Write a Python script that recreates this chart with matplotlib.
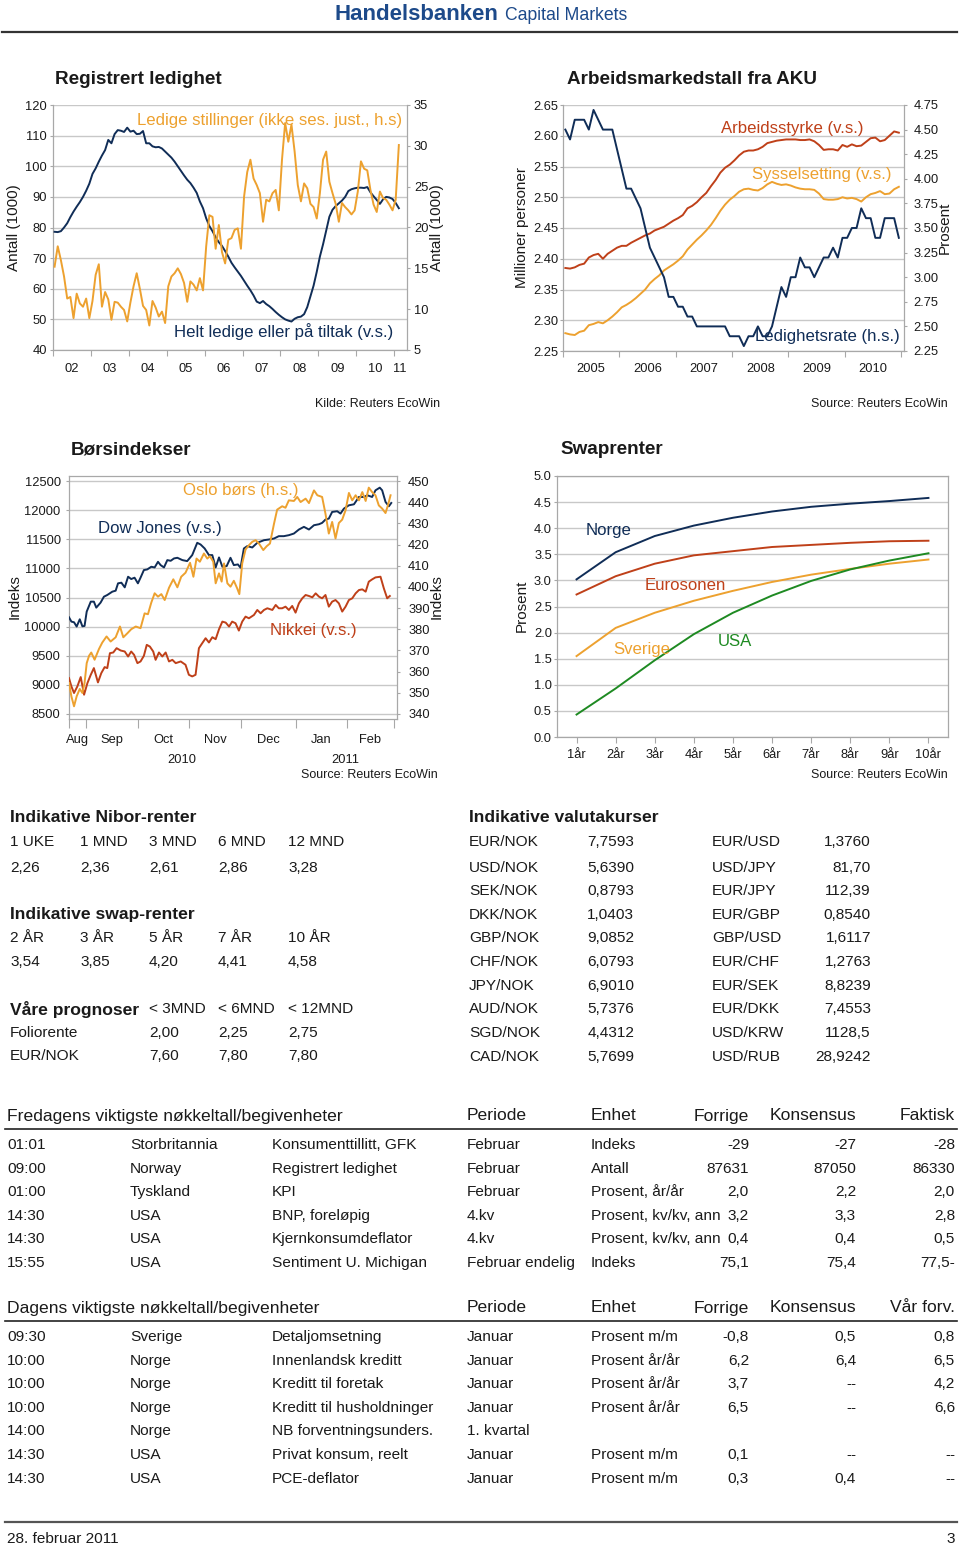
import numpy as np
import matplotlib
matplotlib.use("Agg")
import matplotlib.pyplot as plt
from matplotlib import font_manager as fm
from matplotlib.lines import Line2D
from matplotlib.ticker import FormatStrFormatter

# ---------------------------------------------------------------- data
# Chart 1: Registrert ledighet (monthly, Jan 2002 - Feb 2011)
helt_ledige = [78.6, 78.5, 78.8, 80.0, 81.4, 83.4, 85.2, 86.8, 88.3, 90.0,
               92.0, 94.3, 97.5, 99.3, 101.5, 103.5, 105.3, 108.6, 107.5, 110.5,
               111.8, 111.6, 111.2, 112.6, 111.3, 111.6, 110.5, 110.6, 111.5, 107.5,
               107.5, 106.5, 106.2, 106.3, 105.8, 104.8, 103.8, 102.8, 101.5, 100.0,
               98.5, 97.0, 95.6, 94.5, 93.0, 91.3, 88.5, 86.3, 83.0, 80.5,
               78.8, 76.8, 75.2, 74.0, 72.3, 70.5, 68.5, 67.0, 65.6, 64.2,
               62.6, 61.0, 59.5, 57.8, 55.8, 55.3, 56.0, 55.0, 54.3, 53.4,
               52.4, 51.5, 50.7, 50.0, 49.6, 49.3, 50.2, 50.7, 50.9, 51.7,
               54.0, 57.5, 61.0, 65.5, 70.5, 74.5, 79.0, 83.5, 85.8, 87.0,
               87.9, 88.8, 90.0, 91.9, 92.5, 92.8, 93.0, 93.0, 92.9, 93.2,
               91.5, 90.2, 89.0, 87.7, 89.2, 90.0, 89.8, 89.3, 88.0, 86.3]
ledige_stillinger = [15.2, 17.7, 16.0, 14.0, 11.3, 11.5, 8.9, 11.9, 10.7, 10.3,
                     11.3, 8.9, 11.0, 14.2, 15.5, 10.3, 12.1, 11.2, 8.7, 10.9,
                     10.8, 10.3, 9.9, 8.5, 10.8, 12.8, 14.4, 12.5, 10.4, 9.9,
                     8.0, 11.0, 10.2, 9.1, 9.7, 8.3, 12.8, 14.0, 14.4, 15.0,
                     14.3, 13.2, 10.9, 13.4, 13.0, 12.3, 13.8, 12.3, 17.7, 21.5,
                     21.3, 17.4, 20.3, 17.0, 15.6, 18.5, 18.7, 19.7, 19.9, 17.4,
                     23.8, 26.8, 28.3, 26.0, 25.2, 24.2, 20.7, 23.4, 23.2, 24.2,
                     24.6, 22.1, 28.3, 32.8, 30.5, 32.6, 29.3, 25.2, 23.2, 25.4,
                     24.8, 22.9, 22.5, 21.1, 24.2, 28.3, 29.3, 25.6, 24.2, 22.9,
                     20.7, 23.0, 22.5, 22.1, 21.6, 22.1, 24.4, 28.1, 27.2, 27.0,
                     24.6, 22.8, 21.9, 24.4, 23.6, 23.4, 22.8, 22.1, 23.4, 30.1]
c1_year_labels = ["02", "03", "04", "05", "06", "07", "08", "09", "10", "11"]

# Chart 2: Arbeidsmarkedstall fra AKU (monthly, Jan 2005 - Dec 2010)
arbeidsstyrke = [2.385, 2.384, 2.386, 2.390, 2.392, 2.402, 2.406, 2.408, 2.400, 2.408,
                 2.413, 2.418, 2.421, 2.421, 2.426, 2.430, 2.434, 2.438, 2.441, 2.446,
                 2.449, 2.452, 2.457, 2.462, 2.466, 2.471, 2.482, 2.486, 2.492, 2.500,
                 2.507, 2.518, 2.528, 2.540, 2.548, 2.553, 2.560, 2.568, 2.574, 2.576,
                 2.576, 2.578, 2.582, 2.588, 2.590, 2.592, 2.593, 2.594, 2.594, 2.594,
                 2.593, 2.593, 2.594, 2.591, 2.585, 2.577, 2.578, 2.578, 2.576, 2.585,
                 2.582, 2.586, 2.583, 2.584, 2.590, 2.596, 2.597, 2.591, 2.593, 2.600,
                 2.607, 2.605]
sysselsetting = [2.279, 2.277, 2.276, 2.281, 2.283, 2.292, 2.294, 2.297, 2.295, 2.300,
                 2.306, 2.313, 2.321, 2.325, 2.330, 2.336, 2.343, 2.350, 2.360, 2.367,
                 2.373, 2.381, 2.386, 2.391, 2.397, 2.404, 2.415, 2.423, 2.431, 2.438,
                 2.446, 2.455, 2.466, 2.478, 2.488, 2.496, 2.502, 2.509, 2.513, 2.514,
                 2.512, 2.511, 2.515, 2.521, 2.525, 2.522, 2.520, 2.521, 2.519, 2.516,
                 2.514, 2.513, 2.513, 2.512, 2.506, 2.497, 2.496, 2.496, 2.497, 2.500,
                 2.498, 2.499, 2.497, 2.493, 2.500, 2.505, 2.507, 2.510, 2.505, 2.506,
                 2.513, 2.517]
ledighetsrate = [4.5, 4.4, 4.6, 4.6, 4.6, 4.5, 4.7, 4.6, 4.5, 4.5,
                 4.5, 4.3, 4.1, 3.9, 3.9, 3.8, 3.7, 3.5, 3.3, 3.2,
                 3.1, 3.0, 2.8, 2.8, 2.7, 2.7, 2.6, 2.6, 2.5, 2.5,
                 2.5, 2.5, 2.5, 2.5, 2.5, 2.4, 2.4, 2.4, 2.3, 2.4,
                 2.4, 2.5, 2.4, 2.4, 2.5, 2.7, 2.9, 2.8, 3.0, 3.0,
                 3.2, 3.1, 3.1, 3.0, 3.1, 3.2, 3.2, 3.3, 3.2, 3.4,
                 3.4, 3.5, 3.5, 3.7, 3.6, 3.6, 3.4, 3.4, 3.6, 3.6,
                 3.6, 3.4]
c2_year_labels = ["2005", "2006", "2007", "2008", "2009", "2010"]

# Chart 3: Børsindekser (x = trading days since 2010-08-23)
dow_day = [0.0, 1.0, 2.1, 3.2, 4.5, 5.6, 6.5, 7.4, 9.1, 10.4, 11.4, 13.2, 14.6, 16.0,
           18.1, 19.5, 20.5, 21.9, 23.3, 24.7, 26.0, 27.4, 28.8, 29.9, 31.3, 32.7,
           34.4, 35.8, 37.2, 38.3, 39.7, 41.1, 42.5, 43.9, 45.3, 47.4, 49.4, 51.5,
           53.6, 55.0, 56.7, 58.5, 59.9, 61.3, 62.7, 64.1, 65.9, 67.5, 68.9, 70.6,
           71.7, 73.1, 74.5, 76.6, 78.7, 81.5, 83.6, 85.7, 87.7, 89.8, 91.9, 94.0,
           96.1, 98.2, 100.3, 102.4, 104.5, 105.8, 107.2, 108.6, 110.0, 112.1, 113.5,
           114.9, 117.0, 119.1, 121.2, 123.3, 124.7, 126.7, 128.1, 129.9, 130.9,
           132.3, 133.7, 134.7]
dow_val = [10160, 10086, 10075, 10001, 10126, 10005, 10012, 10258, 10429, 10429, 10326,
           10412, 10514, 10543, 10600, 10617, 10743, 10754, 10674, 10857, 10817, 10840,
           10743, 10840, 10971, 10982, 11028, 11016, 11113, 11056, 11016, 11142, 11130,
           11171, 11182, 11142, 11125, 11228, 11439, 11410, 11342, 11228, 11228, 11016,
           11188, 11028, 11039, 11182, 11056, 11068, 11011, 11342, 11382, 11359, 11439,
           11484, 11496, 11513, 11553, 11553, 11570, 11598, 11667, 11713, 11667, 11741,
           11758, 11781, 11838, 11855, 11969, 11981, 11941, 12026, 12083, 12100, 12226,
           12226, 12255, 12226, 12340, 12386, 12340, 12141, 12066, 12123]
oslo_day = [0.0, 1.0, 2.1, 3.2, 4.5, 5.6, 6.5, 7.4, 8.4, 9.3, 10.7, 12.5, 13.9, 15.7,
            17.4, 19.5, 21.3, 22.7, 24.4, 26.0, 27.9, 29.9, 31.6, 33.0, 34.4, 35.8,
            37.2, 38.6, 40.0, 41.8, 43.6, 45.3, 46.9, 48.7, 50.6, 52.0, 53.3, 54.7,
            56.4, 57.8, 58.9, 60.3, 61.3, 62.7, 63.8, 64.8, 66.2, 67.5, 68.9, 70.3,
            71.2, 72.4, 73.8, 75.2, 76.6, 78.0, 79.4, 81.2, 82.6, 84.0, 85.7, 87.0,
            89.1, 90.5, 91.9, 94.0, 95.4, 96.8, 98.9, 100.3, 102.4, 103.8, 105.8,
            107.2, 108.6, 110.0, 111.4, 112.8, 114.2, 115.6, 117.0, 118.4, 119.8,
            121.2, 122.6, 124.0, 125.3, 126.7, 128.1, 129.5, 130.9, 132.3, 133.3, 134.4]
oslo_val = [354.6, 348.3, 343.6, 348.3, 351.8, 349.9, 354.6, 364.0, 367.5, 369.0, 365.6,
            370.6, 373.7, 376.6, 374.2, 376.2, 381.3, 376.2, 378.1, 380.0, 381.3, 380.5,
            387.5, 387.1, 392.6, 397.0, 395.4, 396.6, 393.8, 399.6, 403.6, 399.8, 404.8,
            406.7, 411.4, 404.8, 413.4, 411.9, 415.8, 413.4, 414.5, 411.9, 401.7, 406.4,
            402.5, 411.1, 401.7, 400.1, 402.9, 399.3, 396.6, 411.1, 417.7, 419.7, 421.3,
            422.1, 420.5, 417.4, 419.2, 420.5, 429.9, 436.5, 438.1, 437.4, 440.9, 440.6,
            442.5, 440.1, 441.7, 439.6, 445.6, 443.3, 442.5, 434.6, 425.2, 430.7, 422.9,
            430.2, 431.8, 436.2, 444.4, 440.9, 443.3, 440.9, 444.8, 440.6, 446.9, 444.8,
            443.3, 438.5, 437.0, 434.9, 438.5, 443.3]
nikkei_day = [0.0, 1.0, 2.1, 3.5, 4.9, 6.3, 7.7, 9.1, 10.4, 12.1, 13.5, 14.9, 16.0,
              17.1, 18.5, 19.9, 21.6, 23.3, 24.7, 26.0, 27.2, 28.6, 29.9, 31.3, 32.5,
              33.8, 35.2, 36.2, 37.6, 39.0, 40.4, 41.8, 43.2, 44.6, 46.7, 48.7, 50.1,
              51.5, 52.9, 54.3, 55.7, 57.1, 58.5, 59.9, 61.3, 62.7, 64.1, 65.5, 66.9,
              68.2, 69.6, 71.0, 72.4, 73.8, 75.2, 77.3, 78.7, 80.1, 81.5, 82.9, 85.0,
              86.4, 87.7, 89.1, 90.5, 91.9, 93.3, 94.7, 96.1, 97.5, 98.9, 100.3, 101.7,
              103.1, 104.5, 105.8, 107.2, 108.6, 110.0, 111.4, 112.8, 114.2, 115.6,
              117.0, 118.4, 119.8, 121.2, 122.6, 124.0, 125.3, 126.7, 128.1, 130.2,
              131.6, 133.0, 134.1]
nikkei_val = [9116, 8974, 8860, 8974, 9134, 8831, 9031, 9173, 9288, 9042, 9202, 9305,
              9288, 9544, 9556, 9630, 9590, 9573, 9487, 9573, 9516, 9373, 9402, 9499,
              9687, 9658, 9573, 9430, 9556, 9487, 9556, 9402, 9430, 9373, 9402, 9345,
              9173, 9145, 9173, 9630, 9716, 9801, 9727, 9818, 9784, 9955, 10086, 10069,
              10001, 10086, 10058, 9932, 10086, 10172, 10143, 10200, 10286, 10229, 10286,
              10315, 10286, 10372, 10315, 10315, 10343, 10286, 10355, 10240, 10400, 10486,
              10543, 10526, 10503, 10571, 10514, 10486, 10543, 10343, 10429, 10457, 10400,
              10258, 10343, 10457, 10486, 10571, 10628, 10640, 10600, 10771, 10811, 10845,
              10857, 10657, 10486, 10526]
c3_month_starts = ["2010-08-23", "2010-09-01", "2010-10-01", "2010-11-01",
                   "2010-12-01", "2011-01-03", "2011-02-01", "2011-03-01"]
c3_month_labels = ["Aug", "Sep", "Oct", "Nov", "Dec", "Jan", "Feb"]

# Chart 4: Swaprenter
swap_tenors = ["1år", "2år", "3år", "4år", "5år", "6år", "7år", "8år", "9år", "10år"]
swap_norge = [3.02, 3.54, 3.85, 4.05, 4.20, 4.32, 4.41, 4.47, 4.52, 4.58]
swap_euro = [2.73, 3.08, 3.32, 3.48, 3.56, 3.64, 3.68, 3.72, 3.75, 3.76]
swap_sverige = [1.55, 2.09, 2.38, 2.61, 2.80, 2.97, 3.11, 3.22, 3.32, 3.40]
swap_usa = [0.43, 0.93, 1.47, 1.97, 2.38, 2.71, 2.99, 3.21, 3.38, 3.52]

# Tables
nibor_head = ["1 UKE", "1 MND", "3 MND", "6 MND", "12 MND"]
nibor_vals = ["2,26", "2,36", "2,61", "2,86", "3,28"]
swap_head = ["2 ÅR", "3 ÅR", "5 ÅR", "7 ÅR", "10 ÅR"]
swap_vals = ["3,54", "3,85", "4,20", "4,41", "4,58"]
prog_head = ["< 3MND", "< 6MND", "< 12MND"]
prog_rows = [["Foliorente", "2,00", "2,25", "2,75"],
             ["EUR/NOK", "7,60", "7,80", "7,80"]]
fx_left = [["EUR/NOK", "7,7593"], ["USD/NOK", "5,6390"], ["SEK/NOK", "0,8793"],
           ["DKK/NOK", "1,0403"], ["GBP/NOK", "9,0852"], ["CHF/NOK", "6,0793"],
           ["JPY/NOK", "6,9010"], ["AUD/NOK", "5,7376"], ["SGD/NOK", "4,4312"],
           ["CAD/NOK", "5,7699"]]
fx_right = [["EUR/USD", "1,3760"], ["USD/JPY", "81,70"], ["EUR/JPY", "112,39"],
            ["EUR/GBP", "0,8540"], ["GBP/USD", "1,6117"], ["EUR/CHF", "1,2763"],
            ["EUR/SEK", "8,8239"], ["EUR/DKK", "7,4553"], ["USD/KRW", "1128,5"],
            ["USD/RUB", "28,9242"]]
fri_head = ["Fredagens viktigste nøkkeltall/begivenheter", "Periode", "Enhet",
            "Forrige", "Konsensus", "Faktisk"]
fri_rows = [["01:01", "Storbritannia", "Konsumenttillitt, GFK", "Februar", "Indeks", "-29", "-27", "-28"],
            ["09:00", "Norway", "Registrert ledighet", "Februar", "Antall", "87631", "87050", "86330"],
            ["01:00", "Tyskland", "KPI", "Februar", "Prosent, år/år", "2,0", "2,2", "2,0"],
            ["14:30", "USA", "BNP, foreløpig", "4.kv", "Prosent, kv/kv, ann", "3,2", "3,3", "2,8"],
            ["14:30", "USA", "Kjernkonsumdeflator", "4.kv", "Prosent, kv/kv, ann", "0,4", "0,4", "0,5"],
            ["15:55", "USA", "Sentiment U. Michigan", "Februar endelig", "Indeks", "75,1", "75,4", "77,5-"]]
day_head = ["Dagens viktigste nøkkeltall/begivenheter", "Periode", "Enhet",
            "Forrige", "Konsensus", "Vår forv."]
day_rows = [["09:30", "Sverige", "Detaljomsetning", "Januar", "Prosent m/m", "-0,8", "0,5", "0,8"],
            ["10:00", "Norge", "Innenlandsk kreditt", "Januar", "Prosent år/år", "6,2", "6,4", "6,5"],
            ["10:00", "Norge", "Kreditt til foretak", "Januar", "Prosent år/år", "3,7", "--", "4,2"],
            ["10:00", "Norge", "Kreditt til husholdninger", "Januar", "Prosent år/år", "6,5", "--", "6,6"],
            ["14:00", "Norge", "NB forventningsunders.", "1. kvartal", "", "", "", ""],
            ["14:30", "USA", "Privat konsum, reelt", "Januar", "Prosent m/m", "0,1", "--", "--"],
            ["14:30", "USA", "PCE-deflator", "Januar", "Prosent m/m", "0,3", "0,4", "--"]]

# ---------------------------------------------------------------- style
_names = {f.name for f in fm.fontManager.ttflist}
HAS_NARROW = "Liberation Sans Narrow" in _names
NARROW = ["Liberation Sans Narrow", "DejaVu Sans"] if HAS_NARROW else ["Liberation Sans", "DejaVu Sans"]
SANS = ["Liberation Sans", "DejaVu Sans"]
plt.rcParams["font.family"] = NARROW

NAVY = "#102d57"
ORANGE = "#eda12f"
RED = "#bf4019"
GREEN = "#1e8a22"
GRID = "#c8c8c8"
SPINE = "#a8a8a8"
TXT = "#1a1a1a"

TICK = 10.8 if HAS_NARROW else 9.3
SER = 14.5 if HAS_NARROW else 12.1
AXL = 11.0
SRC = 10.8 if HAS_NARROW else 9.0

W, H = 960, 1546
fig = plt.figure(figsize=(W / 100, H / 100), dpi=100)


def axes_px(l, t, r, b):
    return fig.add_axes([l / W, 1 - b / H, (r - l) / W, (b - t) / H])


def txt(x, y, s, size, ha="left", va="center", **kw):
    kw.setdefault("color", TXT)
    fig.text(x / W, 1 - y / H, s, fontsize=size, ha=ha, va=va, **kw)


def hline(x0, x1, y, color, lw):
    fig.add_artist(Line2D([x0 / W, x1 / W], [1 - y / H, 1 - y / H],
                          color=color, lw=lw, transform=fig.transFigure))


def base_style(ax, twin):
    for s in ax.spines.values():
        s.set_color(SPINE)
        s.set_linewidth(0.9)
    for s in twin.spines.values():
        s.set_visible(False)
    ax.set_axisbelow(True)
    ax.yaxis.grid(True, color=GRID, lw=1.0)
    ax.tick_params(axis="y", colors=SPINE, labelcolor=TXT, labelsize=TICK, length=2.5, width=0.8)
    twin.tick_params(axis="y", colors=SPINE, labelcolor=TXT, labelsize=TICK, length=2.5, width=0.8)
    ax.tick_params(axis="x", which="major", colors=SPINE, length=4.5, width=0.8, labelbottom=False)
    ax.tick_params(axis="x", which="minor", length=0, labelcolor=TXT, labelsize=TICK)


# ---------------------------------------------------------------- header
txt(498, 20, "Handelsbanken", 16, ha="right", va="baseline", color="#1d4a8a",
    fontweight="bold", family=SANS)
txt(505, 20, "Capital Markets", 12.7, ha="left", va="baseline", color="#1d4a8a", family=SANS)
hline(2, 957, 32, "#333333", 1.6)

# ---------------------------------------------------------------- chart 1
ax1 = axes_px(53, 105, 407, 350)
ax1r = ax1.twinx()
m1 = 2002 + (np.arange(len(helt_ledige)) + 0.5) / 12
ax1.plot(m1, helt_ledige, color=NAVY, lw=1.4, zorder=3)
ax1r.plot(m1, ledige_stillinger, color=ORANGE, lw=1.4, zorder=2)
ax1.set_xlim(2002.0, 2011.34)
ax1.set_ylim(40, 120)
ax1.set_yticks(np.arange(40, 121, 10))
ax1r.set_ylim(5, 35)
ax1r.set_yticks(np.arange(5, 36, 5))
ax1.set_xticks(np.arange(2002, 2012))
ax1.set_xticks(list(np.arange(2002, 2011) + 0.5) + [2011.15], minor=True)
ax1.set_xticklabels(c1_year_labels, minor=True)
base_style(ax1, ax1r)
ax1.spines["top"].set_visible(False)
ax1.tick_params(axis="y", pad=1.8)
ax1r.tick_params(axis="y", pad=2.5)
ax1.tick_params(axis="x", which="minor", pad=9)
txt(55, 80, "Registrert ledighet", 13.6, fontweight="bold", family=SANS)
txt(137, 120, "Ledige stillinger (ikke ses. just., h.s)", SER, color=ORANGE)
txt(284, 332, "Helt ledige eller på tiltak (v.s.)", SER, ha="center", color=NAVY)
txt(14, 228, "Antall (1000)", AXL, ha="center", rotation=90)
txt(437, 228, "Antall (1000)", AXL, ha="center", rotation=90)
txt(440, 404, "Kilde: Reuters EcoWin", SRC, ha="right")

# ---------------------------------------------------------------- chart 2
ax2 = axes_px(563, 105, 904, 351)
ax2r = ax2.twinx()
m2 = 2005 + (np.arange(len(arbeidsstyrke)) + 0.5) / 12
ax2.plot(m2, arbeidsstyrke, color=RED, lw=1.4, zorder=3)
ax2.plot(m2, sysselsetting, color=ORANGE, lw=1.4, zorder=3)
ax2r.plot(m2, ledighetsrate, color=NAVY, lw=1.4)
ax2.set_xlim(2005.0, 2011.05)
ax2.set_ylim(2.25, 2.65)
ax2.set_yticks(np.round(np.arange(2.25, 2.651, 0.05), 2))
ax2.yaxis.set_major_formatter(FormatStrFormatter("%.2f"))
ax2r.set_ylim(2.25, 4.75)
ax2r.set_yticks(np.arange(2.25, 4.76, 0.25))
ax2r.yaxis.set_major_formatter(FormatStrFormatter("%.2f"))
ax2.set_xticks(np.arange(2005, 2012))
ax2.set_xticks(np.arange(2005, 2011) + 0.5, minor=True)
ax2.set_xticklabels(c2_year_labels, minor=True)
base_style(ax2, ax2r)
ax2.spines["top"].set_visible(False)
ax2.tick_params(axis="y", pad=1.0)
ax2r.tick_params(axis="y", pad=4.5)
ax2.tick_params(axis="x", which="minor", pad=9)
txt(567, 80, "Arbeidsmarkedstall fra AKU", 13.6, fontweight="bold", family=SANS)
txt(792, 128, "Arbeidsstyrke (v.s.)", SER, ha="center", color=RED)
txt(822, 175, "Sysselsetting (v.s.)", SER, ha="center", color=ORANGE)
txt(827, 337, "Ledighetsrate (h.s.)", SER, ha="center", color=NAVY)
txt(522, 228, "Millioner personer", AXL, ha="center", rotation=90)
txt(945, 228, "Prosent", AXL, ha="center", rotation=90)
txt(948, 404, "Source: Reuters EcoWin", SRC, ha="right")

# ---------------------------------------------------------------- chart 3
ax3 = axes_px(69, 476, 397, 719)
ax3r = ax3.twinx()
ax3.plot(dow_day, dow_val, color=NAVY, lw=1.4, zorder=3)
ax3.plot(nikkei_day, nikkei_val, color=RED, lw=1.4, zorder=3)
ax3r.plot(oslo_day, oslo_val, color=ORANGE, lw=1.4)
ms = np.array(c3_month_starts, dtype="datetime64[D]")
tick_days = np.busday_count(ms[0], ms)
ax3.set_xlim(0, 137.1)
ax3.set_ylim(8414, 12586)
ax3.set_yticks(np.arange(8500, 12501, 500))
ax3r.set_ylim(337.6, 452.4)
ax3r.set_yticks(np.arange(340, 451, 10))
ax3.set_xticks(tick_days)
ax3.set_xticks((tick_days[:-1] + tick_days[1:]) / 2, minor=True)
ax3.set_xticklabels(c3_month_labels, minor=True)
base_style(ax3, ax3r)
ax3.tick_params(axis="x", which="major", length=6.5)
ax3.tick_params(axis="y", pad=3.5)
ax3r.tick_params(axis="y", pad=5.5)
ax3.tick_params(axis="x", which="minor", pad=10.5)
txt(71, 450, "Børsindekser", 13.6, fontweight="bold", family=SANS)
txt(241, 491, "Oslo børs (h.s.)", SER, ha="center", color=ORANGE)
txt(160, 528, "Dow Jones (v.s.)", SER, ha="center", color=NAVY)
txt(313, 631, "Nikkei (v.s.)", SER, ha="center", color=RED)
txt(15, 597, "Indeks", AXL, ha="center", rotation=90)
txt(437, 597, "Indeks", AXL, ha="center", rotation=90)
txt(182, 760, "2010", TICK, ha="center")
txt(345, 760, "2011", TICK, ha="center")
txt(438, 775, "Source: Reuters EcoWin", SRC, ha="right")

# ---------------------------------------------------------------- chart 4
ax4 = axes_px(557, 476, 948, 737)
xi = np.arange(len(swap_tenors))
ax4.plot(xi, swap_norge, color=NAVY, lw=1.4)
ax4.plot(xi, swap_euro, color=RED, lw=1.4)
ax4.plot(xi, swap_sverige, color=ORANGE, lw=1.4)
ax4.plot(xi, swap_usa, color=GREEN, lw=1.4)
ax4.set_xlim(-0.5, 9.5)
ax4.set_ylim(0, 5)
ax4.set_yticks(np.arange(0, 5.01, 0.5))
ax4.yaxis.set_major_formatter(FormatStrFormatter("%.1f"))
ax4.set_xticks(xi)
ax4.set_xticklabels(swap_tenors)
for s in ax4.spines.values():
    s.set_color(SPINE)
    s.set_linewidth(0.9)
ax4.set_axisbelow(True)
ax4.yaxis.grid(True, color=GRID, lw=1.0)
ax4.tick_params(axis="y", colors=SPINE, labelcolor=TXT, labelsize=TICK, length=2.5, pad=1.2)
ax4.tick_params(axis="x", colors=SPINE, labelcolor=TXT, labelsize=TICK, length=4.5, pad=4.5)
txt(560, 450, "Swaprenter", 13.6, fontweight="bold", family=SANS)
txt(609, 530, "Norge", SER, ha="center", color=NAVY)
txt(685, 586, "Eurosonen", SER, ha="center", color=RED)
txt(642, 649, "Sverige", SER, ha="center", color=ORANGE)
txt(735, 641, "USA", SER, ha="center", color=GREEN)
txt(522, 606, "Prosent", AXL, ha="center", rotation=90)
txt(948, 775, "Source: Reuters EcoWin", SRC, ha="right")

# ---------------------------------------------------------------- rate tables
TB = 12.6
TR = 11.1
cols5 = [10, 80, 149, 218, 288]
txt(10, 817, "Indikative Nibor-renter", TB, fontweight="bold", family=SANS)
for x, s in zip(cols5, nibor_head):
    txt(x, 842, s, TR, family=SANS)
for x, s in zip(cols5, nibor_vals):
    txt(x, 868, s, TR, family=SANS)
txt(10, 914, "Indikative swap-renter", TB, fontweight="bold", family=SANS)
for x, s in zip(cols5, swap_head):
    txt(x, 938, s, TR, family=SANS)
for x, s in zip(cols5, swap_vals):
    txt(x, 962, s, TR, family=SANS)
txt(10, 1009, "Våre prognoser", TB, fontweight="bold", family=SANS)
for x, s in zip(cols5[2:], prog_head):
    txt(x, 1009, s, TR, family=SANS)
for r, row in enumerate(prog_rows):
    y = 1033 + r * 23.5
    txt(10, y, row[0], TR, family=SANS)
    for x, s in zip(cols5[2:], row[1:]):
        txt(x, y, s, TR, family=SANS)

txt(469, 817, "Indikative valutakurser", TB, fontweight="bold", family=SANS)
fx_y = [842, 868, 891, 915, 938, 962, 986, 1009, 1033, 1057]
for y, (a, b), (c, d) in zip(fx_y, fx_left, fx_right):
    txt(469, y, a, TR, family=SANS)
    txt(634, y, b, TR, ha="right", family=SANS)
    txt(712, y, c, TR, family=SANS)
    txt(871, y, d, TR, ha="right", family=SANS)

# ---------------------------------------------------------------- event tables
EH = 12.6


def event_table(head, rows, y_head, y_line, y0):
    txt(7, y_head, head[0], EH, family=SANS)
    txt(467, y_head, head[1], EH, family=SANS)
    txt(591, y_head, head[2], EH, family=SANS)
    txt(749, y_head, head[3], EH, ha="right", family=SANS)
    txt(856, y_head, head[4], EH, ha="right", family=SANS)
    txt(955, y_head, head[5], EH, ha="right", family=SANS)
    hline(5, 957, y_line, "#222222", 1.2)
    for i, r in enumerate(rows):
        y = y0 + i * 23.6
        for x, s in zip([7, 130, 272, 467, 591], r[:5]):
            txt(x, y, s, TR, family=SANS)
        for x, s in zip([749, 856, 955], r[5:]):
            txt(x, y, s, TR, ha="right", family=SANS)


event_table(fri_head, fri_rows, 1116, 1129, 1145)
event_table(day_head, day_rows, 1308, 1321, 1337)

# ---------------------------------------------------------------- footer
hline(5, 957, 1522, "#555555", 1.6)
txt(7, 1539, "28. februar 2011", TR, family=SANS)
txt(955, 1539, "3", TR, ha="right", family=SANS)

fig.savefig("out.png", dpi=100)
